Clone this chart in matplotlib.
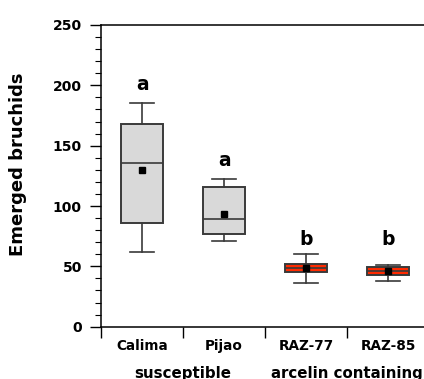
import numpy as np
import matplotlib
matplotlib.use('Agg')
from matplotlib import pyplot as plt
from matplotlib.ticker import MultipleLocator

plt.rcParams['font.family'] = ['DejaVu Sans']

cultivars = ['Calima', 'Pijao', 'RAZ-77', 'RAZ-85']
groups = ['susceptible', 'arcelin containing']
whislo = [62, 71, 36.5, 38]
q1 = [86, 77, 45, 43]
med = [135.5, 89, 49, 46]
q3 = [168, 115.5, 52, 49.7]
whishi = [185.5, 122.5, 60, 51]
means = [129.5, 93.5, 48.5, 46.5]
letters = ['a', 'a', 'b', 'b']
letter_y = [201, 138, 72, 72]

face = ['#d9d9d9', '#d9d9d9', '#ff2a00', '#ff2a00']
edge = '#3a3a3a'

fig = plt.figure(figsize=(4.24, 3.79), dpi=100)
ax = fig.add_axes([101.2/424, 52.3/379, 327.8/424, 301.7/379])

pos = np.arange(len(cultivars)) + 0.5
stats = []
for i in range(len(cultivars)):
    stats.append(dict(med=med[i], q1=q1[i], q3=q3[i], whislo=whislo[i],
                      whishi=whishi[i], mean=means[i], fliers=[]))
bp = ax.bxp(stats, positions=pos, widths=0.51, patch_artist=True, showmeans=True,
            showfliers=False,
            boxprops=dict(edgecolor=edge, linewidth=1.4),
            medianprops=dict(color=edge, linewidth=1.2),
            whiskerprops=dict(color=edge, linewidth=1.2),
            capprops=dict(color=edge, linewidth=1.2),
            capwidths=0.3,
            meanprops=dict(marker='s', markerfacecolor='black', markeredgecolor='black',
                           markersize=4))
for b, c in zip(bp['boxes'], face):
    b.set_facecolor(c)

for x, t, y in zip(pos, letters, letter_y):
    ax.text(x, y, t, ha='center', va='center', fontsize=13.5, fontweight='bold')

ax.set_xlim(0, 4)
ax.set_ylim(0, 250)
ax.yaxis.set_major_locator(MultipleLocator(50))
ax.yaxis.set_minor_locator(MultipleLocator(10))
ax.set_xticks([0, 1, 2, 3, 4])
ax.set_xticklabels([])
ax.set_xticks(pos, minor=True)
ax.set_xticklabels(cultivars, minor=True, fontsize=9.8, fontweight='bold')
ax.tick_params(axis='x', which='minor', length=0, pad=9)
ax.tick_params(axis='x', which='major', length=8, width=1, direction='out')
ax.tick_params(axis='y', which='major', length=8, width=1, labelsize=10, pad=6)
ax.tick_params(axis='y', which='minor', length=4, width=0.8)
for lab in ax.get_yticklabels():
    lab.set_fontweight('bold')

ax.spines['right'].set_visible(False)
for s in ['left', 'bottom', 'top']:
    ax.spines[s].set_linewidth(1.1)

ax.set_ylabel('Emerged bruchids', fontsize=13, fontweight='bold', va='center')
ax.yaxis.set_label_coords(-0.254, 0.537)

ax.text(1.0, -0.155, groups[0], transform=ax.get_xaxis_transform(), ha='center',
        va='center', fontsize=10.8, fontweight='bold')
ax.text(3.0, -0.155, groups[1], transform=ax.get_xaxis_transform(), ha='center',
        va='center', fontsize=10.8, fontweight='bold')

fig.savefig('out.png', dpi=100)
